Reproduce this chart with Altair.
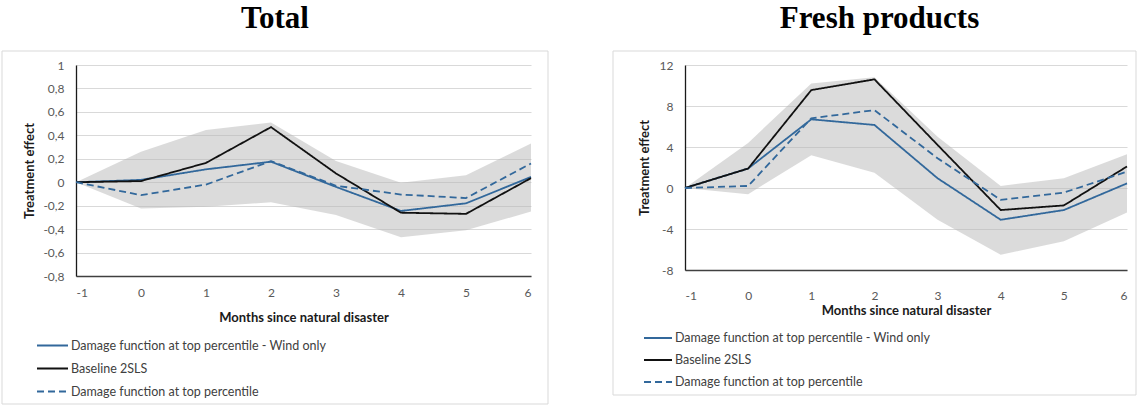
import altair as alt
import pandas as pd

# Event-study estimates, months relative to the natural disaster
months = [-1, 0, 1, 2, 3, 4, 5, 6]

series_names = [
    "Damage function at top percentile - Wind only",
    "Baseline 2SLS",
    "Damage function at top percentile",
]

# Panel "Total"
total_wind = [0, 0.02, 0.11, 0.175, -0.04, -0.245, -0.18, 0.045]
total_baseline = [0, 0.01, 0.165, 0.47, 0.075, -0.26, -0.27, 0.035]
total_top = [0, -0.11, -0.02, 0.18, -0.03, -0.105, -0.135, 0.16]
total_ci_low = [0, -0.225, -0.21, -0.17, -0.28, -0.47, -0.41, -0.25]
total_ci_high = [0, 0.26, 0.445, 0.51, 0.18, -0.005, 0.06, 0.33]
total_y_ticks = [-0.8, -0.6, -0.4, -0.2, 0, 0.2, 0.4, 0.6, 0.8, 1]

# Panel "Fresh products"
fresh_wind = [0, 1.9, 6.7, 6.15, 0.95, -3.1, -2.15, 0.45]
fresh_baseline = [0, 1.9, 9.55, 10.6, 4.2, -2.15, -1.7, 2.1]
fresh_top = [0, 0.2, 6.8, 7.6, 2.9, -1.15, -0.45, 1.6]
fresh_ci_low = [0, -0.6, 3.2, 1.5, -3.1, -6.5, -5.2, -2.4]
fresh_ci_high = [0, 4.4, 10.2, 10.8, 5.0, 0.2, 0.95, 3.3]
fresh_y_ticks = [-8, -4, 0, 4, 8, 12]

BLUE = "#32689b"
BLACK = "#111111"
FONT = "Lato"
DECIMAL_COMMA = "replace(replace(format(datum.value, '~g'), '\u2212', '-'), '.', ',')"


def panel(title, wind, base, top, lo, hi, y_ticks, width, height, frame,
          legend_pos, symbol_len, row_pad, x_label_pad, x_title_pad, y_title_pad, title_dx):
    lines = pd.DataFrame({
        "month": months * 3,
        "value": wind + base + top,
        "series": [series_names[0]] * 8 + [series_names[1]] * 8 + [series_names[2]] * 8,
    })
    band = pd.DataFrame({"month": months, "lo": lo, "hi": hi})

    x_enc = alt.X(
        "month:Q",
        scale=alt.Scale(domain=[months[0], months[-1]], nice=False, zero=False),
        axis=alt.Axis(
            values=months, title="Months since natural disaster", grid=False,
            ticks=False, labelPadding=x_label_pad, titlePadding=x_title_pad,
            labelExpr="replace(format(datum.value, 'd'), '\u2212', '-')",
            domainColor="#404040", domainWidth=1.3,
        ),
    )
    y_scale = alt.Scale(domain=[y_ticks[0], y_ticks[-1]], nice=False, zero=False)
    y_axis = alt.Axis(
        values=y_ticks, title="Treatment effect", ticks=False, labelPadding=12,
        titlePadding=y_title_pad, labelExpr=DECIMAL_COMMA, grid=True,
        gridColor="#d9d9d9", gridWidth=1, domainColor="#1a1a1a", domainWidth=1.3,
    )

    legend = alt.Legend(
        orient="none", legendX=legend_pos[0], legendY=legend_pos[1], title=None,
        direction="vertical", symbolType="stroke", symbolSize=symbol_len ** 2,
        symbolStrokeWidth=2, labelFont=FONT, labelFontSize=12.5,
        labelColor="#404040", labelOffset=2, labelLimit=500, rowPadding=row_pad,
    )

    fx0, fx1, fy0, fy1 = frame
    border = alt.Chart(pd.DataFrame({"k": [0]})).mark_rect(
        fillOpacity=0, stroke="#d9d9d9", strokeWidth=1
    ).encode(x=alt.value(fx0), x2=alt.value(fx1), y=alt.value(fy0), y2=alt.value(fy1))

    area = alt.Chart(band).mark_area(color="#b8b8b8", opacity=0.5).encode(
        x=x_enc, y=alt.Y("lo:Q", scale=y_scale, axis=y_axis), y2="hi:Q"
    )

    line = alt.Chart(lines).mark_line(strokeWidth=1.8).encode(
        x=x_enc,
        y=alt.Y("value:Q", scale=y_scale, axis=y_axis),
        color=alt.Color("series:N", scale=alt.Scale(domain=series_names, range=[BLUE, BLACK, BLUE]),
                        sort=series_names, legend=legend),
        strokeDash=alt.StrokeDash("series:N", scale=alt.Scale(domain=series_names, range=[[1, 0], [1, 0], [7, 4]]),
                                  sort=series_names, legend=legend),
    )

    return alt.layer(border, area, line).properties(
        width=width, height=height,
        title=alt.TitleParams(title, dx=title_dx),
    )


left = panel("Total", total_wind, total_baseline, total_top, total_ci_low, total_ci_high,
             total_y_ticks, 455, 211, (-74, 472, -14, 339), (-40, 264), 31, -4, 11, 13, 6, 0)
right = panel("Fresh products", fresh_wind, fresh_baseline, fresh_top, fresh_ci_low, fresh_ci_high,
              fresh_y_ticks, 442, 205, (-72, 451, -14, 330), (-42, 258), 28, -5, 20, 3, 8, 5)

chart = alt.hconcat(left, right, spacing=63).resolve_scale(
    color="independent", strokeDash="independent"
).resolve_legend(color="independent", strokeDash="independent").properties(
    padding={"left": 1, "top": 2, "right": 0, "bottom": 0}
).configure_view(stroke="transparent").configure_axis(
    labelFont=FONT, labelFontSize=12, labelColor="#595959",
    titleFont=FONT, titleFontSize=13, titleFontWeight="bold", titleColor="#1a1a1a",
).configure_title(
    font="Liberation Serif", fontSize=31, fontWeight="bold", color="black",
    anchor="middle", frame="bounds", offset=16,
)

chart.save("out.html", embed_options={"renderer": "svg", "actions": False})
